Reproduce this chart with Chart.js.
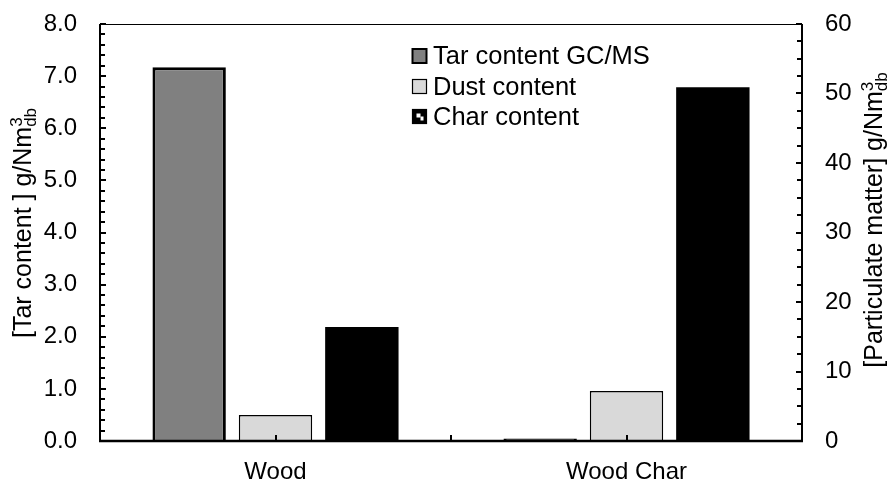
<!DOCTYPE html>
<html><head><meta charset="utf-8">
<script src="https://cdn.jsdelivr.net/npm/chart.js@4/dist/chart.umd.min.js"></script>
<style>html,body{margin:0;padding:0;background:#fff}#wrap{width:890px;height:482px}</style>
</head><body><div id="wrap"><canvas id="c" width="890" height="482"></canvas></div>
<script>
const categories = ['Wood', 'Wood Char'];
const seriesLabels = ['Tar content GC/MS', 'Dust content', 'Char content'];
const tarContent = [7.17, 0.05];
const dustContent = [3.75, 7.2];
const charContent = [16.4, 50.9];
const leftTickLabels = ['0.0','1.0','2.0','3.0','4.0','5.0','6.0','7.0','8.0'];
const rightTickLabels = ['0','10','20','30','40','50','60'];
const leftTitle = ['[Tar content ] g/Nm', '3', 'db'];
const rightTitle = ['[Particulate matter] g/Nm', '3', 'db'];

const FONT = '"Liberation Sans", Arial, sans-serif';

const framePlugin = {
  id: 'frame',
  afterDatasetsDraw(chart) {
    const { ctx, chartArea: a, scales } = chart;
    ctx.save();
    ctx.strokeStyle = '#000';
    ctx.lineCap = 'butt';
    const line = (x1, y1, x2, y2) => { ctx.beginPath(); ctx.moveTo(x1, y1); ctx.lineTo(x2, y2); ctx.stroke(); };
    ctx.lineWidth = 1;
    line(a.left, a.top + 0.5, a.right, a.top + 0.5);
    ctx.lineWidth = 2;
    const yl = scales.y, yr = scales.y2, x = scales.x;
    for (let i = 0; i <= 40; i++) {
      const py = Math.round(yl.getPixelForValue(i * 0.2));
      const len = (i % 5 === 0) ? 6 : 5;
      line(a.left, py, a.left + len, py);
    }
    for (let i = 0; i <= 24; i++) {
      const py = Math.round(yr.getPixelForValue(i * 2.5));
      const len = (i % 4 === 0) ? 6 : 5;
      line(a.right, py, a.right - len, py);
    }
    const n = categories.length;
    const xs = [];
    for (let i = 0; i < n; i++) xs.push(x.getPixelForValue(i));
    for (let i = 0; i < n - 1; i++) xs.push((x.getPixelForValue(i) + x.getPixelForValue(i + 1)) / 2);
    xs.forEach(px => line(Math.round(px), a.bottom, Math.round(px), a.bottom - 6));
    ctx.lineWidth = 2;
    line(a.left, a.top, a.left, a.bottom + 1);
    line(a.right, a.top, a.right, a.bottom + 1);
    ctx.lineWidth = 2.5;
    line(a.left - 1, a.bottom, a.right + 1, a.bottom);
    ctx.restore();
  },
  afterDraw(chart) {
    const { ctx } = chart;
    ctx.save();
    ctx.fillStyle = '#000';
    const drawTitle = (parts, bx, cy) => {
      const big = '25px ' + FONT, small = '17px ' + FONT;
      ctx.font = big; const w0 = ctx.measureText(parts[0]).width;
      ctx.font = small; const w1 = ctx.measureText(parts[1]).width;
      const w2 = ctx.measureText(parts[2]).width;
      const total = w0 + Math.max(w1, w2);
      ctx.save();
      ctx.translate(bx, cy);
      ctx.rotate(-Math.PI / 2);
      ctx.textBaseline = 'alphabetic';
      ctx.textAlign = 'left';
      let sx = -total / 2;
      ctx.font = big; ctx.fillText(parts[0], sx, 0); sx += w0;
      ctx.font = small; ctx.fillText(parts[1], sx, -9);
      ctx.fillText(parts[2], sx, 5);
      ctx.restore();
    };
    drawTitle(leftTitle, 31, 223);
    drawTitle(rightTitle, 882, 220);
    const ds = chart.data.datasets;
    const rows = [56, 86.5, 116.5];
    ctx.font = '25.5px ' + FONT;
    ctx.textBaseline = 'middle';
    ctx.textAlign = 'left';
    ds.forEach((d, i) => {
      const cy = rows[i];
      const bx = 412.5, by = cy - 7, s = 14;
      ctx.fillStyle = d.backgroundColor;
      ctx.fillRect(bx, by, s, s);
      ctx.strokeStyle = '#000';
      ctx.lineWidth = i === 0 ? 2 : 1.2;
      ctx.strokeRect(bx, by, s, s);
      if (i === 2) {
        ctx.fillStyle = '#fff';
        ctx.fillRect(bx + 4, by + 4, 4, 4);
        ctx.fillRect(bx + 8, by + 7, 3, 4);
      }
      ctx.fillStyle = '#000';
      ctx.fillText(d.label, 433, cy + 1);
    });
    ctx.restore();
  }
};

const fitY = w => s => { s.width = w; s.paddingTop = 0; s.paddingBottom = 0; };

new Chart(document.getElementById('c'), {
  type: 'bar',
  data: {
    labels: categories,
    datasets: [
      { label: seriesLabels[0], data: tarContent, yAxisID: 'y', backgroundColor: '#808080', borderColor: '#000', borderWidth: 3, borderSkipped: 'bottom' },
      { label: seriesLabels[1], data: dustContent, yAxisID: 'y2', backgroundColor: '#d9d9d9', borderColor: '#000', borderWidth: 1.5, borderSkipped: 'bottom' },
      { label: seriesLabels[2], data: charContent, yAxisID: 'y2', backgroundColor: '#000000', borderWidth: 0 }
    ]
  },
  options: {
    responsive: false,
    animation: false,
    devicePixelRatio: 1,
    layout: { padding: { top: 24, right: 0, left: 0, bottom: 0 } },
    datasets: { bar: { categoryPercentage: 0.738, barPercentage: 0.85 } },
    plugins: { legend: { display: false }, tooltip: { enabled: false } },
    scales: {
      x: {
        type: 'category',
        grid: { display: false, drawTicks: false },
        border: { display: false },
        ticks: { color: '#000', font: { family: FONT, size: 24 }, padding: 17 },
        afterFit: s => { s.height = 41; s.paddingLeft = 0; s.paddingRight = 0; }
      },
      y: {
        position: 'left', min: 0, max: 8,
        grid: { display: false, drawTicks: false },
        border: { display: false },
        ticks: { stepSize: 1, color: '#000', font: { family: FONT, size: 24 }, padding: 23,
          callback: (v, i) => leftTickLabels[i] },
        afterFit: fitY(100)
      },
      y2: {
        position: 'right', min: 0, max: 60,
        grid: { display: false, drawTicks: false },
        border: { display: false },
        ticks: { stepSize: 10, color: '#000', font: { family: FONT, size: 24 }, padding: 23,
          callback: (v, i) => rightTickLabels[i] },
        afterFit: fitY(88)
      }
    }
  },
  plugins: [framePlugin]
});
</script></body></html>
